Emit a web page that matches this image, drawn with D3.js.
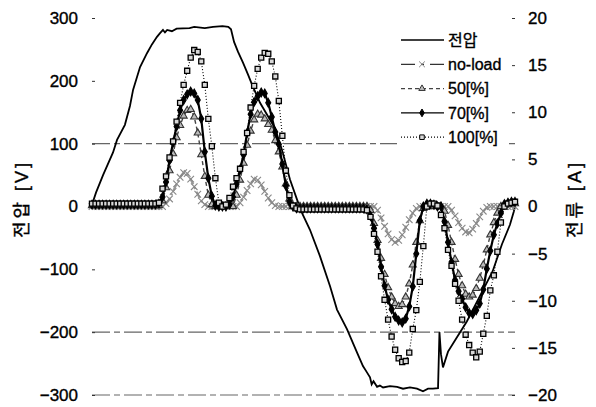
<!DOCTYPE html>
<html>
<head>
<meta charset="utf-8">
<script src="https://cdn.jsdelivr.net/npm/d3@7"></script>
<style>
  body { margin: 0; background: #fff; }
  text { font-family: "Liberation Sans", "Noto Sans CJK KR", sans-serif; fill: #000; stroke: #000; stroke-width: 0.35px; }
</style>
</head>
<body>
<svg id="chart" width="596" height="407"></svg>
<script>
// sample angle of the current traces (deg, one cycle)
var angle = d3.range(0, 361, 3)

// currents [A], one value per sample angle
var curNoLoad = [
  0,0,0,0,0,0,0,0,0,0,
  0,0,0,0,0,0,0,0,0,0,
  0.0,0.3,0.8,1.6,2.4,3.1,3.6,3.5,2.9,2.1,
  1.3,0.6,0.2,0,0,0,0,0,0,0,
  0,0,0.4,1.0,1.7,2.4,2.9,2.8,2.3,1.6,
  0.9,0.4,0.1,0,0,0,0,0,0,0,
  0,0,0,0,0,0,0,0,0,0,
  0,0,0,0,0,0,0,0,0,0,
  0.0,-0.4,-1.2,-2.1,-2.9,-3.5,-3.8,-3.6,-3.0,-2.2,
  -1.4,-0.7,-0.2,0,0,0,0,0,0,0,
  0.0,0.0,-0.4,-1.0,-1.7,-2.3,-2.7,-2.8,-2.4,-1.8,
  -1.1,-0.5,-0.1,0,0,0,0,0,0,0,
  0
]
var cur50 = [
  0.1,0.1,0.1,0.1,0.1,0.1,0.1,0.1,0.1,0.1,
  0.1,0.1,0.1,0.1,0.1,0.1,0.1,0.1,0.1,0.1,
  0.6,2.0,3.8,5.6,7.3,8.6,9.6,10.2,10.3,9.5,
  7.8,5.5,3.2,1.2,0.2,0,0,0,0,0,
  0.0,1.2,2.8,4.6,6.5,8.0,9.2,9.8,9.7,9.3,
  8.7,8.1,7.0,5.8,4.2,2.4,0.8,0,0,0,
  0,0,0,0,0,0,0,0,0,0,
  0,0,0,0,0,0,0,0,0,-0.4,
  -1.8,-3.6,-5.5,-7.2,-8.6,-9.6,-10.3,-10.6,-10.4,-9.6,
  -8.2,-6.2,-3.8,-1.5,-0.2,0,0,0,0,0,
  -0.5,-2.0,-3.8,-5.6,-7.2,-8.4,-9.3,-9.6,-9.4,-8.7,
  -7.6,-6.2,-4.6,-3.0,-1.7,-0.7,0.0,0.3,0.3,0.3,
  0.3
]
var cur70 = [
  0.2,0.2,0.2,0.2,0.2,0.2,0.2,0.2,0.2,0.2,
  0.2,0.2,0.2,0.2,0.2,0.2,0.2,0.2,0.2,0.3,
  1.0,2.6,4.9,6.8,8.5,10.2,11.3,11.9,12.2,12.0,
  11.3,9.3,5.8,3.0,1.1,0.1,0,0,0,0.2,
  1.0,2.4,3.9,5.5,7.8,9.8,11.1,11.7,12.1,12.0,
  11.0,9.5,7.9,6.6,4.5,2.2,0.5,0,-0.2,-0.2,
  -0.2,-0.2,-0.2,-0.2,-0.2,-0.2,-0.2,-0.2,-0.2,-0.2,
  -0.2,-0.2,-0.2,-0.2,-0.2,-0.2,-0.2,-0.2,-0.3,-1.0,
  -2.3,-4.0,-6.4,-8.4,-9.9,-10.9,-11.7,-12.1,-12.3,-11.9,
  -10.6,-8.5,-5.0,-1.5,0.0,0.3,0.3,0.2,0,0,
  -1.6,-3.8,-5.9,-7.8,-9.0,-9.8,-10.7,-11.3,-11.4,-11.0,
  -10.3,-8.8,-6.6,-4.7,-3.0,-1.8,-0.7,0.2,0.4,0.5,
  0.5
]
var cur100 = [
  0.3,0.3,0.3,0.3,0.3,0.3,0.3,0.3,0.3,0.3,
  0.3,0.3,0.3,0.3,0.3,0.3,0.3,0.3,0.3,0.4,
  1.9,3.2,5.2,6.9,9.0,11.0,12.9,14.4,15.8,16.6,
  16.4,15.4,12.9,9.3,6.4,3.0,0.4,0.0,0.2,0.9,
  2.1,3.0,4.0,5.8,7.8,10.5,12.8,14.6,15.8,16.3,
  16.2,15.4,13.8,11.2,7.5,3.8,1.2,0.1,-0.2,-0.3,
  -0.3,-0.3,-0.3,-0.3,-0.3,-0.3,-0.3,-0.3,-0.3,-0.3,
  -0.3,-0.3,-0.3,-0.3,-0.3,-0.3,-0.3,-0.3,-0.4,-1.1,
  -2.9,-4.8,-7.4,-9.9,-12.0,-13.8,-15.2,-16.1,-16.5,-16.4,
  -15.5,-13.0,-11.0,-8.0,-4.2,0.0,0.3,0.3,0.1,-0.9,
  -2.3,-4.6,-6.3,-8.2,-10.0,-12.0,-13.6,-14.7,-15.5,-16.0,
  -15.4,-13.5,-11.6,-8.9,-7.3,-4.8,-1.7,0.0,0.3,0.4,
  0.5
]

// voltage trace [deg, V]
var voltT = [0,0.9,3.4,9.4,17.9,21.3,28,32.3,35,40.9,46.8,51,55.3,57.9,60.4,62.1,64,68,72,83,87,96,103,111,116,118.3,
  120.9,124.3,128.5,132.8,136.2,143,149,155.7,161.7,168.5,174.5,178.7,185.5,194,202.6,208.5,217,225.5,230.6,234,
  236.6,238,239.6,242.6,245,247.7,253.6,259.6,264.7,270.6,276.6,281.7,286,290.2,294.5,295.7,297,298.7,303,310.6,
  319,330,341,348.9,355.7,359,360]
var voltV = [0,8,22,50,86,106,130,160,186,222,244,258,270,276,281,277,281,279,283,284,286,284,286,287,286,282,
  262,246,229,210,194,165,146,125,90,43,11,-10,-37,-79,-127,-164,-195,-232,-254,-264,
  -272,-283,-278,-287,-285,-288,-286,-287,-290,-288,-290,-294,-290,-290,-289,-200,-235,-256,-231,-208,
  -183,-143,-103,-60,-29,-8,0]

var voltTicks = [300, 200, 100, 0, -100, -200, -300]
var ampTicks = [20, 15, 10, 5, 0, -5, -10, -15, -20]
var gridVolts = [100, -200, -300]
var legendNames = ["전압", "no-load", "50[%]", "70[%]", "100[%]"]

var svg = d3.select("#chart")

var xScale = d3.scaleLinear().domain([0, 360]).range([92, 515])
var yV = d3.scaleLinear().domain([-300, 300]).range([395, 18])
var yA = d3.scaleLinear().domain([-20, 20]).range([395, 18])

// broken grey grid lines left from the scan
svg.append("g").selectAll("line")
  .data(gridVolts)
  .enter().append("line")
  .attr("x1", 92).attr("x2", 515)
  .attr("y1", function(d){ return yV(d) }).attr("y2", function(d){ return yV(d) })
  .attr("stroke", "#666").attr("stroke-width", 1.1)
  .attr("stroke-dasharray", "18,4,6,4")

// axes
svg.append("g").attr("transform", "translate(95,0)")
  .call(d3.axisLeft(yV).tickValues(voltTicks).tickSize(3).tickPadding(14))
svg.append("g").attr("transform", "translate(512,0)")
  .call(d3.axisRight(yA).tickValues(ampTicks).tickSize(3).tickPadding(13))
svg.selectAll(".domain").remove()
svg.selectAll(".tick line").attr("stroke", "#333")
svg.selectAll(".tick text").attr("font-size", 17)
  .style("font-family", "'Liberation Sans', sans-serif")

// axis titles
svg.append("text").attr("transform", "translate(22,199) rotate(-90)")
  .attr("text-anchor", "middle").attr("dy", "0.35em")
  .attr("font-size", 18).attr("letter-spacing", 3).text("전압 [V]")
svg.append("text").attr("transform", "translate(575,199) rotate(-90)")
  .attr("text-anchor", "middle").attr("dy", "0.35em")
  .attr("font-size", 18).attr("letter-spacing", 3).text("전류 [A]")

// legend background hides the grid line under it
svg.append("rect").attr("x", 397).attr("y", 26).attr("width", 112).attr("height", 122).attr("fill", "#fff")

// series styles
var styles = [
  {stroke: "#000", width: 1.8, dash: null, symbol: null},
  {stroke: "#999", width: 2.2, dash: "7,3,2,3", symbol: d3.symbolTimes, size: 30, mstroke: "#888", mfill: "none"},
  {stroke: "#444", width: 1.4, dash: "4,3", symbol: d3.symbolTriangle, size: 22, mstroke: "#333", mfill: "#bbb"},
  {stroke: "#000", width: 2.2, dash: null, symbol: d3.symbolDiamond, size: 22, mstroke: "#000", mfill: "#000"},
  {stroke: "#000", width: 1.1, dash: "1,2", symbol: d3.symbolSquare, size: 26, mstroke: "#000", mfill: "#d8d8d8"}
]

var voltLine = d3.line()
  .x(function(d, i){ return xScale(voltT[i]) })
  .y(function(d){ return yV(d) })
var curLine = d3.line()
  .x(function(d, i){ return xScale(angle[i]) })
  .y(function(d){ return yA(d) })

svg.append("path").attr("d", voltLine(voltV))
  .attr("fill", "none").attr("stroke", styles[0].stroke).attr("stroke-width", styles[0].width)

var currents = [curNoLoad, cur50, cur70, cur100]
currents.forEach(function(series, k){
  var s = styles[k + 1]
  var g = svg.append("g")
  g.append("path").attr("d", curLine(series))
    .attr("fill", "none").attr("stroke", s.stroke).attr("stroke-width", s.width)
    .attr("stroke-dasharray", s.dash)
  g.selectAll("path.m")
    .data(series)
    .enter().append("path").attr("class", "m")
    .attr("transform", function(d, i){ return "translate(" + xScale(angle[i]) + "," + yA(d) + ")" })
    .attr("d", d3.symbol().type(s.symbol).size(s.size))
    .attr("fill", s.mfill).attr("stroke", s.mstroke).attr("stroke-width", k == 3 ? 1.3 : 1.1)
})

// legend
var legend = svg.append("g")
legendNames.forEach(function(name, k){
  var s = styles[k]
  var y = 40 + k * 24.3
  legend.append("line").attr("x1", 401).attr("x2", 444).attr("y1", y).attr("y2", y)
    .attr("stroke", k == 1 ? "#333" : s.stroke).attr("stroke-width", 1.3)
    .attr("stroke-dasharray", k == 1 ? "14,6,3,6" : s.dash)
  if (s.symbol) {
    legend.append("path").attr("transform", "translate(422," + y + ")")
      .attr("d", d3.symbol().type(s.symbol).size(s.size * 0.8))
      .attr("fill", s.mfill).attr("stroke", s.mstroke).attr("stroke-width", 1)
  }
  legend.append("text").attr("x", 448).attr("y", y).attr("dy", "0.35em")
    .attr("font-size", 16).text(name)
})
</script>
</body>
</html>
